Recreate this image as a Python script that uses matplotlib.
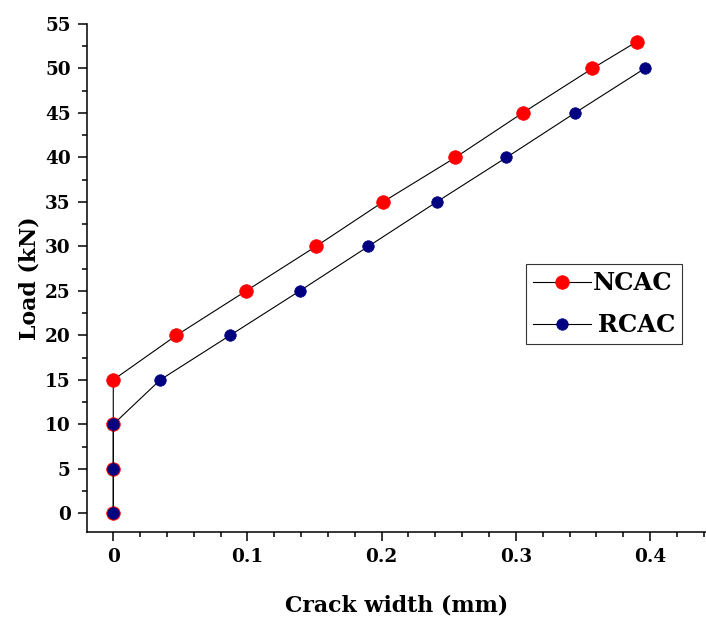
import matplotlib
matplotlib.use("Agg")
import matplotlib.pyplot as plt
from matplotlib.ticker import MultipleLocator

# Data
ncac_width = [0, 0, 0, 0, 0.047, 0.099, 0.151, 0.201, 0.255, 0.305, 0.357, 0.390]
ncac_load = [0, 5, 10, 15, 20, 25, 30, 35, 40, 45, 50, 53]
rcac_width = [0, 0, 0, 0.035, 0.087, 0.139, 0.190, 0.241, 0.293, 0.344, 0.396]
rcac_load = [0, 5, 10, 15, 20, 25, 30, 35, 40, 45, 50]
series_names = ["NCAC", "RCAC"]
x_label = "Crack width (mm)"
y_label = "Load (kN)"

plt.rcParams['font.family'] = ['DejaVu Serif']
plt.rcParams['font.weight'] = 'bold'

fig = plt.figure(figsize=(7.06, 6.19), dpi=100)
ax = fig.add_axes([0.1228, 0.141, 0.8772, 0.8202])

ax.plot(ncac_width, ncac_load, color='black', lw=0.8, marker='o', ms=9.8,
        mfc='#ff0000', mec='#ff0000', mew=0.5, label=series_names[0], zorder=3)
ax.plot(rcac_width, rcac_load, color='black', lw=0.8, marker='o', ms=8.3,
        mfc='#000080', mec='#000080', mew=0.5, label="\u2009" + series_names[1], zorder=4)

ax.set_xlim(-0.0198, 0.4417)
ax.set_ylim(-2.07, 55)
ax.xaxis.set_major_locator(MultipleLocator(0.1))
ax.xaxis.set_minor_locator(MultipleLocator(0.02))
ax.yaxis.set_major_locator(MultipleLocator(5))
ax.yaxis.set_minor_locator(MultipleLocator(2.5))
ax.set_xticks([0, 0.1, 0.2, 0.3, 0.4])
ax.set_xticklabels(["0", "0.1", "0.2", "0.3", "0.4"])

for s in ['top', 'right']:
    ax.spines[s].set_visible(False)
for s in ['left', 'bottom']:
    ax.spines[s].set_linewidth(1.1)

ax.tick_params(which='major', direction='out', length=6.5, width=1.1,
               labelsize=13.3, pad=5)
ax.tick_params(which='minor', direction='out', length=3.5, width=1.1)
for lab in ax.get_xticklabels() + ax.get_yticklabels():
    lab.set_fontweight('bold')

ax.set_xlabel(x_label, fontsize=15.8, fontweight='bold', labelpad=21)
ax.set_ylabel(y_label, fontsize=15.8, fontweight='bold', labelpad=3.5)

leg = ax.legend(loc='upper left', bbox_to_anchor=(0.709, 0.5267),
                borderaxespad=0, fontsize=17.5, frameon=True, fancybox=False,
                handlelength=2.4, handletextpad=0.08, labelspacing=0.75,
                borderpad=0.28)
leg.get_frame().set_edgecolor('black')
leg.get_frame().set_linewidth(0.8)
for t in leg.get_texts():
    t.set_fontweight('bold')

fig.savefig("out.png", dpi=100)
